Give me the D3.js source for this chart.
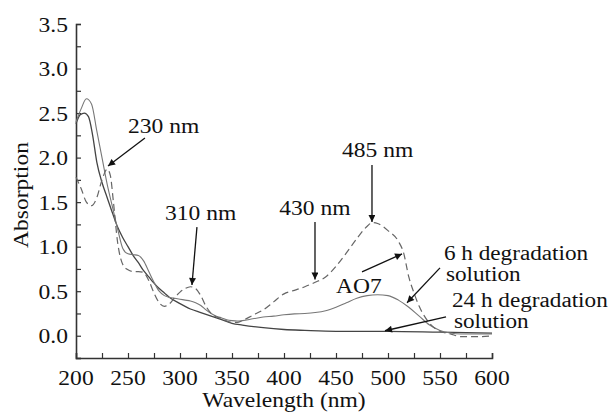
<!DOCTYPE html>
<html>
<head>
<meta charset="utf-8">
<script src="https://cdn.jsdelivr.net/npm/d3@7"></script>
<style>
  html, body { margin: 0; padding: 0; background: #fff; }
  svg { display: block; }
  svg text { font-family: "Liberation Serif", "Times New Roman", Times, serif; }
</style>
</head>
<body>
<svg id="chart" width="615" height="417"></svg>
<script>
// UV-Vis spectra: AO7 and its degradation solutions
const ao7Wl  = [200,205,210,215,220,225,230,233,236,240,245,250,255,260,265,270,275,280,285,290,295,300,305,310,315,320,325,330,340,350,355,360,370,380,390,400,410,420,430,440,450,460,470,480,485,490,500,510,515,520,525,530,540,550,560,570,580,590,600];
const ao7Abs = [1.78,1.65,1.50,1.46,1.55,1.75,1.87,1.80,1.50,1.05,0.80,0.74,0.72,0.72,0.71,0.62,0.48,0.37,0.33,0.36,0.43,0.49,0.53,0.55,0.53,0.45,0.33,0.25,0.19,0.15,0.15,0.17,0.23,0.29,0.38,0.47,0.51,0.55,0.60,0.66,0.78,0.93,1.09,1.23,1.27,1.26,1.18,1.06,0.93,0.66,0.48,0.33,0.14,0.05,0.02,-0.01,-0.01,-0.01,0.00];

const h6Wl  = [200,205,210,215,220,225,230,235,240,245,250,255,260,265,270,275,280,285,290,295,300,305,310,315,320,325,330,335,340,345,350,355,360,370,380,390,400,410,420,430,440,450,460,470,480,490,500,510,520,530,540,550,560,570,580,590,600];
const h6Abs = [2.40,2.55,2.66,2.60,2.30,2.00,1.70,1.45,1.20,0.98,0.92,0.91,0.90,0.84,0.72,0.60,0.50,0.45,0.43,0.42,0.41,0.40,0.39,0.37,0.34,0.29,0.25,0.22,0.20,0.18,0.17,0.165,0.17,0.19,0.21,0.22,0.235,0.245,0.25,0.26,0.28,0.32,0.37,0.42,0.45,0.46,0.45,0.40,0.32,0.22,0.12,0.06,0.03,0.02,0.02,0.02,0.02];

const h24Wl  = [200,204,208,212,216,220,225,230,235,240,245,250,255,260,265,270,275,280,285,290,300,310,320,330,340,350,360,380,400,420,450,500,550,600];
const h24Abs = [2.38,2.48,2.50,2.46,2.25,1.95,1.72,1.55,1.38,1.22,1.10,1.00,0.90,0.82,0.73,0.66,0.59,0.53,0.48,0.43,0.36,0.30,0.26,0.22,0.18,0.14,0.12,0.09,0.07,0.06,0.05,0.05,0.04,0.03];

const xTicks = [200,250,300,350,400,450,500,550,600];
const yTicks = [0.0,0.5,1.0,1.5,2.0,2.5,3.0,3.5];

// Annotation texts and arrows, in data units (wavelength, absorption)
const notes = [
  { lines: ["230 nm"], at: [250, 2.276], tail: [266.3, 2.22], tip: [230.8, 1.906] },
  { lines: ["310 nm"], at: [285.6, 1.30], tail: [316.3, 1.22], tip: [311.5, 0.57] },
  { lines: ["430 nm"], at: [395.5, 1.36], tail: [429.8, 1.278], tip: [429.8, 0.63] },
  { lines: ["485 nm"], at: [455.8, 2.007], tail: [484.6, 1.917], tip: [484.6, 1.278] },
  { lines: ["AO7"], at: [450, 0.482], tail: [475, 0.717], tip: [513.5, 0.919] },
  { lines: ["6 h degradation", "solution"], at: [553.8, 0.852], tail: [550, 0.762], tip: [518.3, 0.37] },
  { lines: ["24 h degradation", "solution"], at: [561.5, 0.325], tail: [555.8, 0.213], tip: [497.1, 0.056] }
];

const svg = d3.select("#chart");
const m = { left: 76, right: 123, top: 24, bottom: 59 };
const W = 615, H = 417;
const x = d3.scaleLinear().domain([200, 600]).range([m.left, W - m.right]);
const y = d3.scaleLinear().domain([-0.25, 3.5]).range([H - m.bottom, m.top]);
const FS = 22, SX = 1.07;

// arrowhead
svg.append("defs").append("marker")
  .attr("id", "head").attr("viewBox", "0 0 10 10")
  .attr("refX", 10).attr("refY", 5)
  .attr("markerWidth", 9).attr("markerHeight", 7)
  .attr("markerUnits", "userSpaceOnUse")
  .attr("orient", "auto")
  .append("path").attr("d", "M0,0 L10,5 L0,10 Z").attr("fill", "#111");

// axes with inward ticks
const axisColor = "#333";
const xAxisY = y(-0.25);
const gx = svg.append("g").attr("transform", `translate(0,${xAxisY})`)
  .call(d3.axisBottom(x).tickValues(d3.range(200, 601, 25)).tickSize(-5).tickFormat(""));
const gy = svg.append("g").attr("transform", `translate(${m.left},0)`)
  .call(d3.axisLeft(y).tickValues(d3.range(-0.25, 3.51, 0.25)).tickSize(-5).tickFormat(""));
[gx, gy].forEach(g => {
  g.attr("font-family", null).attr("font-size", null);
  g.select(".domain").attr("stroke", axisColor).attr("stroke-width", 1.6);
  g.selectAll(".tick line").attr("stroke", axisColor).attr("stroke-width", 1.2);
});

function label(g, px, py, str, anchor, size, sx) {
  return g.append("text")
    .attr("transform", `translate(${px},${py}) scale(${sx || SX},1)`)
    .attr("text-anchor", anchor || "start")
    .style("font-size", (size || FS) + "px")
    .style("fill", "#111")
    .text(str);
}

const tl = svg.append("g");
xTicks.forEach(v => label(tl, x(v), xAxisY + 27, String(v), "middle"));
yTicks.forEach(v => label(tl, m.left - 8, y(v) + 7.5, v.toFixed(1), "end"));

// axis titles
label(tl, (x(200) + x(600)) / 2, 407, "Wavelength (nm)", "middle");
tl.append("text")
  .attr("transform", `translate(28,${(y(-0.25) + y(3.5)) / 2 + 4}) rotate(-90) scale(${SX},1)`)
  .attr("text-anchor", "middle")
  .style("font-size", FS + "px")
  .style("fill", "#111")
  .text("Absorption");

// spectra
const line = d3.line().x(d => x(d[0])).y(d => y(d[1])).curve(d3.curveMonotoneX);
const zip = (a, b) => a.map((v, i) => [v, b[i]]);
const plot = svg.append("g");
plot.append("path").datum(zip(h24Wl, h24Abs)).attr("d", line)
  .attr("fill", "none").attr("stroke", "#444").attr("stroke-width", 1.3);
plot.append("path").datum(zip(h6Wl, h6Abs)).attr("d", line)
  .attr("fill", "none").attr("stroke", "#777").attr("stroke-width", 1.1);
plot.append("path").datum(zip(ao7Wl, ao7Abs)).attr("d", line)
  .attr("fill", "none").attr("stroke", "#666").attr("stroke-width", 1.2)
  .attr("stroke-dasharray", "7,4");

// annotations (two-line notes are set slightly narrower in height, wider in stretch)
const ann = svg.append("g");
notes.forEach(n => {
  const two = n.lines.length > 1;
  n.lines.forEach((s, i) => label(ann, x(n.at[0]) + (i ? 2 : 0), y(n.at[1]) + i * 21, s,
    "start", two ? 20 : FS, two ? 1.16 : SX));
  ann.append("line")
    .attr("x1", x(n.tail[0])).attr("y1", y(n.tail[1]))
    .attr("x2", x(n.tip[0])).attr("y2", y(n.tip[1]))
    .attr("stroke", "#111").attr("stroke-width", 1.3)
    .attr("marker-end", "url(#head)");
});
</script>
</body>
</html>
